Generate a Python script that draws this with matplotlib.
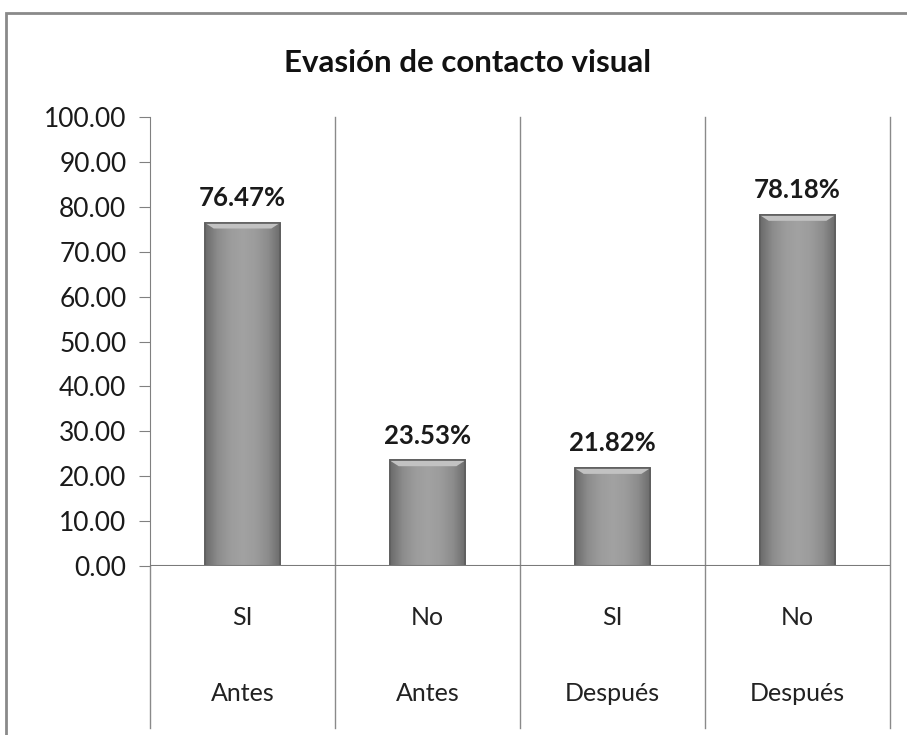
import matplotlib.pyplot as plt
import matplotlib.patches as patches
from matplotlib.colors import LinearSegmentedColormap
import numpy as np

# Data
respuestas = ['SI', 'No', 'SI', 'No']
momentos = ['Antes', 'Antes', 'Después', 'Después']
porcentajes = [76.47, 23.53, 21.82, 78.18]
yticks = [0, 10, 20, 30, 40, 50, 60, 70, 80, 90, 100]

plt.rcParams['font.family'] = ['Lato', 'DejaVu Sans']

fig = plt.figure(figsize=(9.07, 7.35), dpi=100)
ax = fig.add_axes([0.1654, 0.2299, 0.8159, 0.6109])

x = np.arange(len(porcentajes))
bars = ax.bar(x, porcentajes, width=0.41, color='#939393',
              edgecolor='#5e5e5e', linewidth=1.2, zorder=3)

# gradien horizontal di dalam batang (efek bevel)
cmap = LinearSegmentedColormap.from_list(
    'bevel', ['#6a6a6a', '#8c8c8c', '#9c9c9c', '#a2a2a2', '#9c9c9c', '#8c8c8c', '#6a6a6a'])
grad = np.linspace(0, 1, 256)
grad = np.vstack([grad, grad])
for b in bars:
    bx, by = b.get_x(), b.get_y()
    bw, bh = b.get_width(), b.get_height()
    im = ax.imshow(grad, extent=(bx, bx + bw, by, by + bh), aspect='auto',
                   cmap=cmap, zorder=3.5, interpolation='bicubic')
    im.set_clip_path(b)
    # tepi atas yang lebih terang
    ax.add_patch(patches.Polygon([[bx, by + bh], [bx + bw, by + bh],
                                  [bx + bw * 0.88, by + bh - 1.3],
                                  [bx + bw * 0.12, by + bh - 1.3]],
                                 color='#c2c2c2', zorder=4, lw=0))
    ax.add_patch(patches.Rectangle((bx, by), bw, bh, fill=False,
                                   edgecolor='#5e5e5e', lw=1.2, zorder=5))

for xi, v in zip(x, porcentajes):
    ax.text(xi, v + 5.5, f'{v:.2f}%', ha='center', va='center',
            fontsize=18.5, fontweight='bold', color='#1a1a1a')

ax.set_xlim(-0.5, len(porcentajes) - 0.5)
ax.set_ylim(0, 100)
ax.set_yticks(yticks)
ax.set_yticklabels([f'{t:.2f}' for t in yticks], fontsize=19, color='#1a1a1a')
ax.tick_params(axis='y', length=8, color='#808080', direction='out', pad=9)
ax.set_xticks([])

for s in ['top', 'right', 'bottom']:
    ax.spines[s].set_visible(False)
ax.spines['left'].set_color('#808080')
ax.axhline(0, color='#7a7a7a', lw=1.5, zorder=6)

# garis pemisah kategori (sampai bawah label)
for xs in np.arange(0.5, len(porcentajes), 1.0):
    ax.plot([xs, xs], [-36, 100], color='#8a8a8a', lw=1, clip_on=False)
ax.plot([-0.5, -0.5], [-36, 0], color='#8a8a8a', lw=1, clip_on=False)

for xi, r, m in zip(x, respuestas, momentos):
    ax.text(xi, -11.5, r, ha='center', va='center', fontsize=18, color='#222222')
    ax.text(xi, -28.5, m, ha='center', va='center', fontsize=18, color='#222222')

fig.text(0.515, 0.914, 'Evasión de contacto visual', ha='center', va='center',
         fontsize=22.5, fontweight='bold', color='#111111')

# bingkai luar
fig.patches.append(patches.Rectangle((0.0066, -0.1), 1.2, 0.1 + 1 - 13 / 735,
                                     transform=fig.transFigure, fill=False,
                                     edgecolor='#8a8a8a', lw=2, clip_on=False))

fig.savefig('out.png', dpi=100)
